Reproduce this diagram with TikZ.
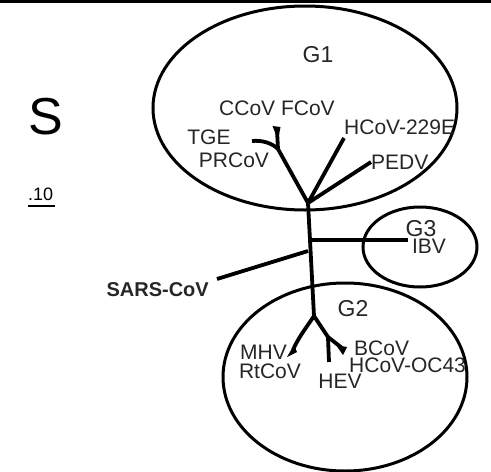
\documentclass[tikz,border=0pt]{standalone}
\usepackage{fontspec}
\setmainfont{Liberation Sans}
\begin{document}
\begin{tikzpicture}[x=1pt,y=-1pt,
  lab/.style={inner sep=0pt,font=\fontsize{21}{23}\selectfont,text=black!85},
  glab/.style={inner sep=0pt,font=\fontsize{23}{25}\selectfont,text=black!85},
  ring/.style={line width=3pt},
  branch/.style={line width=3.8pt,line cap=butt},
  wedge/.style={fill=black}]
\useasboundingbox (0,0) rectangle (491,472);
\fill[black] (0,0) rectangle (491,2.5);

% clade ellipses
\draw[ring] (305,108) ellipse [x radius=152pt,y radius=102pt];
\draw[ring] (420,247) ellipse [x radius=57pt,y radius=40pt];
\draw[ring] (345,377) ellipse [x radius=122pt,y radius=94pt];

% tree junctions
\coordinate (j1) at (308,203);
\coordinate (ja) at (278,149);
\coordinate (tge) at (252,141);
\coordinate (ccov) at (277,130);
\coordinate (hcov) at (344,138);
\coordinate (pedv) at (371,162);
\coordinate (jibv) at (310,240);
\coordinate (ibv) at (408,240);
\coordinate (jsars) at (308,251);
\coordinate (sars) at (217,279);
\coordinate (j2) at (314,316);
\coordinate (mhv) at (293,350);
\coordinate (jb) at (328,337);
\coordinate (hev) at (329,362);
\coordinate (bcov) at (342,348);

% branches
\draw[branch] (j1) -- (ja);
\draw[branch] (ja) .. controls (272,143) and (262,140) .. (tge);
\draw[branch] (ja) -- (ccov);
\draw[branch] (j1) -- (hcov);
\draw[branch] (j1) -- (pedv);
\draw[branch] (j1) -- (jibv) -- (j2);
\draw[branch] (jibv) -- (ibv);
\draw[branch] (jsars) -- (sars);
\draw[branch] (j2) .. controls (306,328) and (298,338) .. (mhv);
\draw[branch] (j2) -- (jb) -- (hev);
\draw[branch] (jb) -- (bcov);

% small terminal wedges
\fill[wedge] (272.5,126) -- (280.5,127) -- (278,140) -- cycle;
\fill[wedge] (287,357) -- (297,352) -- (294,345) -- cycle;
\fill[wedge] (336,345) -- (347,347) -- (343,355) -- cycle;

% labels
\node[glab] (g1) at (318,55) {G1};
\node[glab] (g2) at (353,309) {G2};
\node[glab] (g3) at (421,229) {G3};
\node[inner sep=0pt,font=\fontsize{52}{54}\selectfont] (s) at (46,117) {S};
\node[inner sep=0pt,font=\fontsize{18}{20}\selectfont,anchor=base west] (scale) at (28,200) {.10};
\draw[line width=2pt] (28,206) -- (55,206);
\node[lab] (ccovl) at (277,108) {CCoV FCoV};
\node[lab] (tgel) at (209,137) {TGE};
\node[lab] (prcov) at (234,160) {PRCoV};
\node[lab,anchor=west] (hcovl) at (344,127) {HCoV-229E};
\node[lab,anchor=west] (pedvl) at (371,162) {PEDV};
\node[lab] (ibvl) at (429,246) {IBV};
\node[lab,font=\fontsize{20}{22}\selectfont\bfseries,anchor=east] (sarsl) at (209,290) {SARS-CoV};
\node[lab,anchor=east] (mhvl) at (287,352) {MHV};
\node[lab] (rtcov) at (270,371) {RtCoV};
\node[lab] (hevl) at (340,381) {HEV};
\node[lab,anchor=west] (bcovl) at (354,348) {BCoV};
\node[lab,anchor=west] (oc43) at (349,365) {HCoV-OC43};
\end{tikzpicture}
\end{document}
